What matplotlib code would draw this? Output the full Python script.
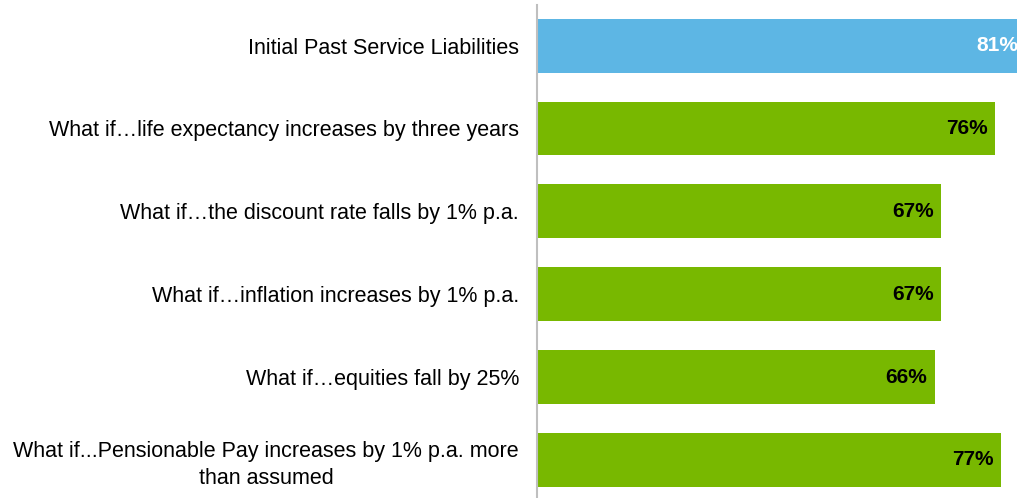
import numpy as np
import matplotlib.pyplot as plt

plt.rcParams['font.family'] = ['Liberation Sans', 'DejaVu Sans']

labels = ["Initial Past Service Liabilities",
          "What if\u2026life expectancy increases by three years",
          "What if\u2026the discount rate falls by 1% p.a.",
          "What if\u2026inflation increases by 1% p.a.",
          "What if\u2026equities fall by 25%",
          "What if...Pensionable Pay increases by 1% p.a. more\nthan assumed"]
values = [81, 76, 67, 67, 66, 77]
colors = ["#5db6e4", "#78b800", "#78b800", "#78b800", "#78b800", "#78b800"]
text_colors = ["white", "black", "black", "black", "black", "black"]

fig = plt.figure(figsize=(10.17, 4.98), dpi=100)
ax = fig.add_axes([537/1017, 0, 480/1017, 493/498])

ylocs = np.arange(len(values))
ax.barh(ylocs, values, height=0.65, color=colors)
ax.set_xlim(0, 79.6)
ax.set_ylim(5.46, -0.49)

for y, v, tc in zip(ylocs, values, text_colors):
    ax.annotate(f"{v}%", xy=(v, y), xytext=(-5.5, 0),
                textcoords="offset points", ha="right", va="center",
                fontsize=15, fontweight="bold", color=tc,
                annotation_clip=False)

ax.set_yticks(ylocs)
ax.set_yticklabels(labels, fontsize=15.5, color="black",
                   multialignment="center", linespacing=1.35)
ax.tick_params(axis="y", length=0, pad=13)
ax.set_xticks([])
for s in ["top", "right", "bottom"]:
    ax.spines[s].set_visible(False)
ax.spines["left"].set_color("#bfbfbf")
ax.spines["left"].set_linewidth(1.5)

fig.savefig("out.png", dpi=100)
